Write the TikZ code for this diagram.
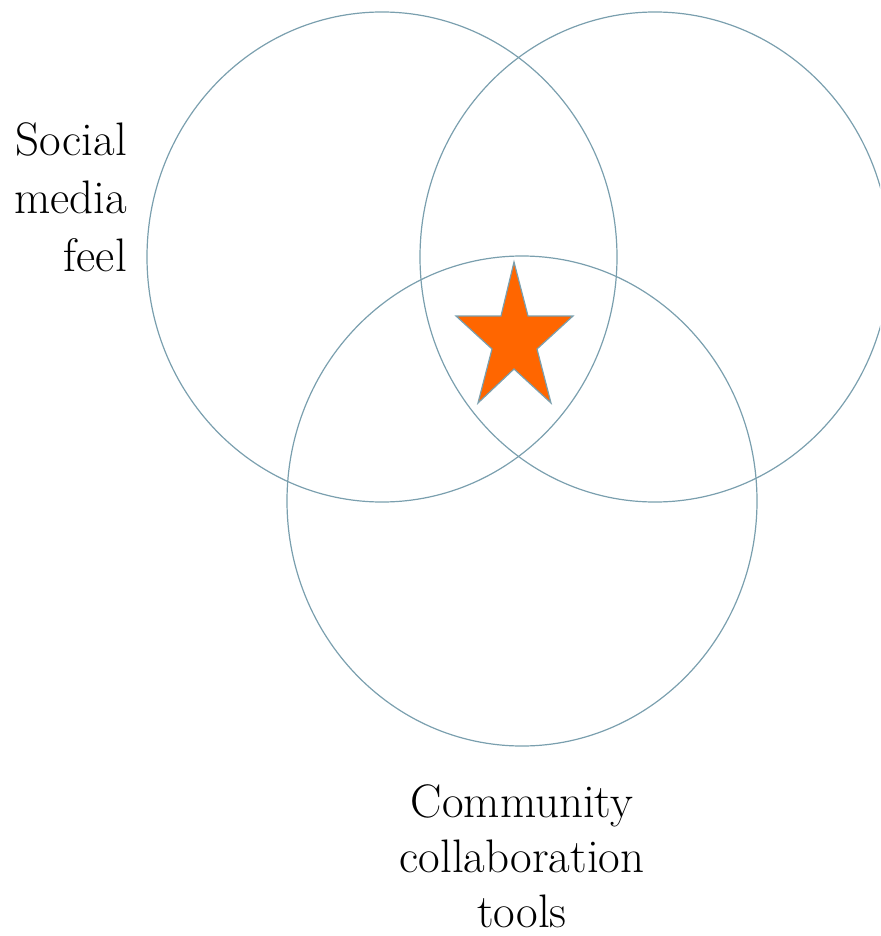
\documentclass[tikz,border=0pt]{standalone}
\definecolor{vennline}{HTML}{7A9FAE}
\definecolor{starorange}{HTML}{FF6600}
\begin{document}
\begin{tikzpicture}[x=1pt,y=-1pt]
	\useasboundingbox (0,0) rectangle (880,936);
	\clip (0,0) rectangle (880,936);
	\begin{scope}[ring/.style={draw=vennline,line width=1.2pt}]
	\draw[ring] (382,257) ellipse [x radius=235pt,y radius=245pt];
	\draw[ring] (655,257) ellipse [x radius=235pt,y radius=245pt];
	\draw[ring] (522,501) ellipse [x radius=235pt,y radius=245pt];
	\end{scope}
	\draw[draw=vennline,fill=starorange,line width=1.2pt,line join=miter]
		(514,262) -- (528,316) -- (573,316) -- (537,349) -- (551,403) -- (514,369)
		-- (478,403) -- (492,349) -- (456,316) -- (501,316) -- cycle;
	\begin{scope}[every node/.style={inner sep=0pt}]
	\node[anchor=east,align=right,font=\fontsize{47}{58}\selectfont] (social) at (127,197) {Social\\media\\feel};
	\node[align=center,font=\fontsize{47}{55}\selectfont] (community) at (522,856) {Community\\collaboration\\tools};
	\end{scope}
\end{tikzpicture}
\end{document}
